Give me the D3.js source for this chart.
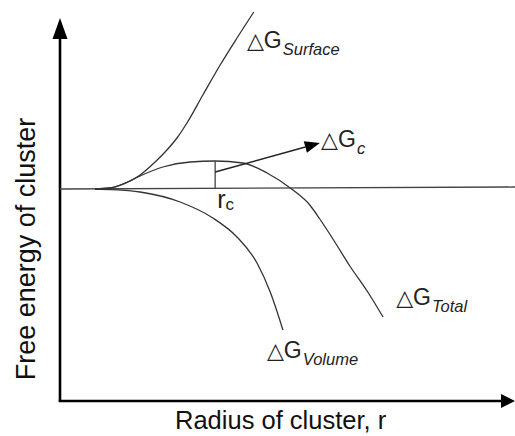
<!DOCTYPE html>
<html>
<head>
<meta charset="utf-8">
<script src="https://cdn.jsdelivr.net/npm/d3@7"></script>
<style>
  html, body { margin: 0; padding: 0; background: #fff; }
  svg { display: block; font-family: "Liberation Sans", Arial, sans-serif; }
</style>
</head>
<body>
<svg id="chart" width="515" height="436"></svg>
<script>
// ---- Data (radius r in arbitrary units, free energy ΔG in arbitrary units) ----
const surfaceR = [0.77, 1.10, 1.43, 1.76, 2.09, 2.35, 2.57, 2.79, 3.14, 3.52, 3.89, 4.26];
const surfaceG = [0.00, 0.05, 0.30, 0.70, 1.35, 1.95, 2.55, 3.30, 4.70, 6.20, 7.55, 8.85];

const totalR = [0.77, 1.10, 1.43, 1.76, 2.26, 2.86, 3.41, 4.02, 4.55, 5.12, 5.49, 5.71, 6.04, 6.37, 6.75, 7.10];
const totalG = [0.00, 0.05, 0.28, 0.65, 1.10, 1.35, 1.40, 1.30, 0.80, -0.05, -0.80, -1.50, -2.65, -3.85, -5.10, -6.40];

const volumeR = [0.77, 1.16, 1.76, 2.64, 3.36, 3.89, 4.33, 4.62, 4.90];
const volumeG = [0.00, -0.03, -0.15, -0.65, -1.45, -2.40, -3.70, -5.15, -7.05];

const baselineR = [0, 10];
const baselineG = [0, 0.1];

const criticalR = 3.41;      // r_c
const criticalG = 1.40;      // ΔG_c (peak of total curve)
const arrowFrom = [3.41, 0.85];
const arrowTo = [5.71, 2.30];

const xLabel = "Radius of cluster, r";
const yLabel = "Free energy of cluster";
const curveLabels = [
  { sub: "Surface", r: 4.13, g: 7.05 },
  { sub: "c",       r: 5.76, g: 2.10 },
  { sub: "Total",   r: 7.41, g: -5.80 },
  { sub: "Volume",  r: 4.57, g: -8.45 }
];

// ---- Scales ----
const svg = d3.select("#chart");
const x = d3.scaleLinear().domain([0, 10]).range([60, 515]);
const y = d3.scaleLinear().domain([-10.6, 8.5]).range([401, 19]);

const font = '"Liberation Sans", Arial, sans-serif';

// ---- Axes (arrows) ----
const axisG = svg.append("g");
axisG.append("line")
  .attr("x1", x(0)).attr("y1", y(-10.6))
  .attr("x2", x(0)).attr("y2", y(8.5) + 18)
  .attr("stroke", "#000").attr("stroke-width", 2.6);
axisG.append("path")
  .attr("d", `M${x(0)},${y(8.5) - 1} L${x(0) - 7.5},${y(8.5) + 20} L${x(0) + 7.5},${y(8.5) + 20} Z`)
  .attr("fill", "#000");
axisG.append("line")
  .attr("x1", x(0) - 1.3).attr("y1", y(-10.6))
  .attr("x2", x(10) - 12).attr("y2", y(-10.6))
  .attr("stroke", "#000").attr("stroke-width", 2.6);
axisG.append("path")
  .attr("d", `M${x(10)},${y(-10.6)} L${x(10) - 14},${y(-10.6) - 7} L${x(10) - 14},${y(-10.6) + 7} Z`)
  .attr("fill", "#000");

// ---- Baseline ----
svg.append("line")
  .attr("x1", x(baselineR[0])).attr("y1", y(baselineG[0]))
  .attr("x2", x(baselineR[1])).attr("y2", y(baselineG[1]))
  .attr("stroke", "#444").attr("stroke-width", 1.3);

// ---- Curves ----
const line = d3.line().x(d => x(d[0])).y(d => y(d[1])).curve(d3.curveMonotoneX);
const series = [
  d3.zip(surfaceR, surfaceG),
  d3.zip(totalR, totalG),
  d3.zip(volumeR, volumeG)
];
svg.selectAll("path.curve").data(series).join("path")
  .attr("class", "curve")
  .attr("d", line)
  .attr("fill", "none")
  .attr("stroke", "#333")
  .attr("stroke-width", 1.3);

// ---- r_c vertical line ----
svg.append("line")
  .attr("x1", x(criticalR)).attr("y1", y(0))
  .attr("x2", x(criticalR)).attr("y2", y(criticalG))
  .attr("stroke", "#444").attr("stroke-width", 1.3);

// ---- Arrow to ΔG_c ----
const ax1 = x(arrowFrom[0]), ay1 = y(arrowFrom[1]);
const ax2 = x(arrowTo[0]), ay2 = y(arrowTo[1]);
const ang = Math.atan2(ay2 - ay1, ax2 - ax1);
const headL = 15, headW = 6;
const bx = ax2 - headL * Math.cos(ang), by = ay2 - headL * Math.sin(ang);
svg.append("line")
  .attr("x1", ax1).attr("y1", ay1).attr("x2", bx).attr("y2", by)
  .attr("stroke", "#222").attr("stroke-width", 1.4);
svg.append("path")
  .attr("d", `M${ax2},${ay2} L${bx + headW * Math.sin(ang)},${by - headW * Math.cos(ang)} L${bx - headW * Math.sin(ang)},${by + headW * Math.cos(ang)} Z`)
  .attr("fill", "#000");

// ---- Curve labels: △G_sub ----
curveLabels.forEach(l => {
  const t = svg.append("text")
    .attr("x", x(l.r) - 1).attr("y", y(l.g))
    .attr("font-family", font)
    .attr("fill", "#222");
  t.append("tspan").attr("font-family", '"DejaVu Sans", sans-serif').attr("font-size", 22).text("△");
  t.append("tspan").attr("font-size", 23).attr("dx", 0).text("G");
  t.append("tspan").attr("font-size", 16.5).attr("font-style", "italic").attr("dx", 1).attr("dy", 7).text(l.sub);
});

// ---- r_c label ----
const rc = svg.append("text")
  .attr("x", x(criticalR) + 2).attr("y", y(0) + 19)
  .attr("font-family", font).attr("fill", "#222");
rc.append("tspan").attr("font-size", 25).text("r");
rc.append("tspan").attr("font-size", 17).attr("dy", 2).text("c");

// ---- Axis titles ----
svg.append("text")
  .attr("x", 175).attr("y", 429)
  .attr("font-family", font).attr("font-size", 25.5).attr("fill", "#111")
  .text(xLabel);
svg.append("text")
  .attr("transform", "translate(35,249) rotate(-90)")
  .attr("text-anchor", "middle")
  .attr("font-family", font).attr("font-size", 27).attr("fill", "#111")
  .text(yLabel);
</script>
</body>
</html>
